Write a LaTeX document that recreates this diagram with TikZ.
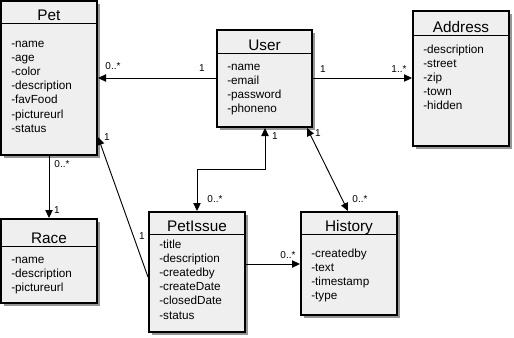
\documentclass[tikz,border=0pt]{standalone}
\usepackage{fontspec}
\setmainfont{Liberation Sans}
\usetikzlibrary{arrows.meta,fit}
\definecolor{boxfill}{RGB}{239,239,239}
\definecolor{shadowc}{RGB}{150,150,150}
% #1 name, #2 x1, #3 y1, #4 x2, #5 y2, #6 header y, #7 title, #8 first baseline, #9 attributes
\newcommand{\umlclass}[9]{%
  \fill[shadowc] ({#2+3},{#3+3}) rectangle ({#4+3},{#5+3});
  \node[classbox, fit={(#2,#3) (#4,#5)}] (#1) {};
  \draw[headline] (#2,#6) -- (#4,#6);
  \node[titletext, anchor=base] (#1-title) at ({(#2+#4)/2},{#6-3}) {#7};
  \foreach \a [count=\i] in {#9}
    \node[attrtext, anchor=base west] (#1-a\i) at ({#2+10},{#8+(\i-1)*14.2}) {\a};
}
\begin{document}
\begin{tikzpicture}[x=0.75pt,y=-0.75pt,
  classbox/.style={draw=black, line width=1.5pt, fill=boxfill, inner sep=0pt},
  headline/.style={line width=0.75pt},
  titletext/.style={font=\fontsize{11.5}{13}\selectfont, inner sep=0pt},
  attrtext/.style={font=\fontsize{8.8}{10.5}\selectfont, inner sep=0pt},
  mult/.style={font=\fontsize{7.5}{9}\selectfont, inner sep=0pt},
  tip/.tip={Triangle[length=6pt,width=5.5pt]},
  assoc/.style={line width=0.7pt, -tip},
  assocboth/.style={line width=0.7pt, tip-tip}]
\fill[white] (0,0) rectangle (514,337);
\useasboundingbox (0,0) rectangle (514,337);

\umlclass{pet}{1}{1}{97}{155}{23}{Pet}{47}{-name,-age,-color,-description,-favFood,-pictureurl,-status}
\umlclass{user}{217}{30}{312}{127}{53}{User}{70}{-name,-email,-password,-phoneno}
\umlclass{address}{413}{11}{509}{146}{35}{Address}{53}{-description,-street,-zip,-town,-hidden}
\umlclass{race}{1}{219}{97}{303}{246}{Race}{263}{-name,-description,-pictureurl}
\umlclass{petissue}{149}{212}{245}{332}{234}{PetIssue}{248}{-title,-description,-createdby,-createDate,-closedDate,-status}
\umlclass{history}{301}{212}{397}{315}{234}{History}{257}{-createdby,-text,-timestamp,-type}

\coordinate (bend) at (265,169);

% connectors
\draw[assoc] (user.west |- 0,78) -- (pet.east |- 0,78);
\draw[assoc] (user.east |- 0,78) -- (address.west |- 0,78);
\draw[assoc] (pet.south) -- (race.north);
\draw[assoc] (petissue.west |- 0,277) -- (pet.east |- 0,137);
\draw[assocboth] (petissue.north) |- (bend) -- (user.south -| bend);
\draw[assocboth] (user.south -| 307,0) -- (history.north -| 348,0);
\draw[assoc] (petissue.east |- 0,264) -- (history.west |- 0,264);

% multiplicities
\node[mult] (m1) at (113,66) {0..*};
\node[mult] (m2) at (202,68) {1};
\node[mult] (m3) at (323,69) {1};
\node[mult] (m4) at (399,69) {1..*};
\node[mult] (m5) at (62,164) {0..*};
\node[mult] (m6) at (57,210) {1};
\node[mult] (m7) at (107,137) {1};
\node[mult] (m8) at (142,236) {1};
\node[mult] (m9) at (215,199) {0..*};
\node[mult] (m10) at (275,136) {1};
\node[mult] (m11) at (318,133) {1};
\node[mult] (m12) at (360,199) {0..*};
\node[mult] (m13) at (288,255) {0..*};
\end{tikzpicture}
\end{document}
